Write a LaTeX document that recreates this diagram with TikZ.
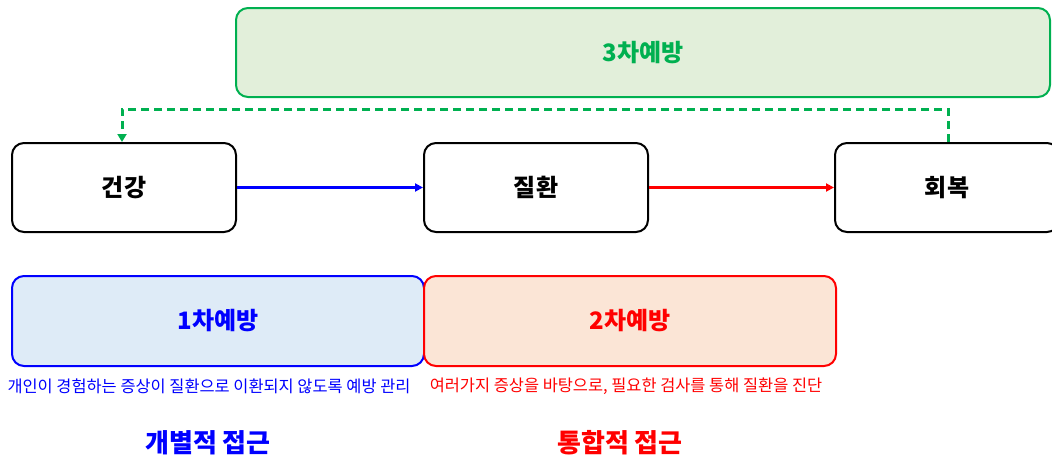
\documentclass[tikz,border=0pt]{standalone}
\usepackage{fontspec}
\setmainfont{Noto Sans CJK KR}
\usepackage{xcolor}
\definecolor{prev-green}{HTML}{00B050}
\definecolor{fill-green}{HTML}{E2EFDA}
\definecolor{prev-blue}{HTML}{0000FF}
\definecolor{fill-blue}{HTML}{DEEBF7}
\definecolor{prev-red}{HTML}{FF0000}
\definecolor{fill-red}{HTML}{FBE5D6}
\usetikzlibrary{arrows.meta}

\begin{document}
\begin{tikzpicture}[x=1pt, y=-1pt,
    every node/.style={font=\fontsize{24}{28}\selectfont\bfseries},
    stagebox/.style={draw, line width=2pt, rounded corners=12pt, minimum width=224pt, minimum height=89pt, inner sep=0pt},
    prevbox/.style={draw, line width=2pt, rounded corners=12pt, minimum width=412pt, minimum height=90pt, inner sep=0pt},
    note/.style={font=\fontsize{16.4}{19}\selectfont, inner sep=0pt},
    approach/.style={font=\fontsize{26}{30}\selectfont\bfseries},
    loopline/.style={draw=prev-green, line width=3pt, dash pattern=on 8pt off 5pt}]
  \useasboundingbox (0,0) rectangle (1052,463);
  \node[prevbox, draw=prev-green, fill=fill-green, text=prev-green, minimum width=814pt, minimum height=89pt] (p3) at (643, 52.5) {3차예방};
  \node[stagebox] (hlth) at (124, 187.5) {건강};
  \node[stagebox] (dis) at (536, 187.5) {질환};
  \node[stagebox] (rec) at (947, 187.5) {회복};
  \node[prevbox, draw=prev-blue, fill=fill-blue, text=prev-blue] (p1) at (218, 321) {1차예방};
  \node[prevbox, draw=prev-red, fill=fill-red, text=prev-red] (p2) at (630, 321) {2차예방};
  \node[note, text=prev-blue] (n1) at (209, 386) {개인이 경험하는 증상이 질환으로 이환되지 않도록 예방 관리};
  \node[note, text=prev-red] (n2) at (626, 386) {여러가지 증상을 바탕으로, 필요한 검사를 통해 질환을 진단};
  \node[approach, text=prev-blue] (a1) at (208, 443) {개별적 접근};
  \node[approach, text=prev-red] (a2) at (620, 443) {통합적 접근};
  \draw[-{Triangle[length=8pt, width=8pt]}, line width=2.4pt, prev-blue] (hlth.east) -- (dis.west);
  \draw[-{Triangle[length=8pt, width=8pt]}, line width=2.4pt, prev-red] (dis.east) -- (rec.west);
  \coordinate (turn) at ([xshift=1pt, yshift=33pt]rec.north);
  \draw[loopline, -{Triangle[length=8pt, width=9pt]}] ([xshift=1pt]rec.north) -- (turn) -| ([xshift=-2pt]hlth.north);
\end{tikzpicture}
\end{document}
